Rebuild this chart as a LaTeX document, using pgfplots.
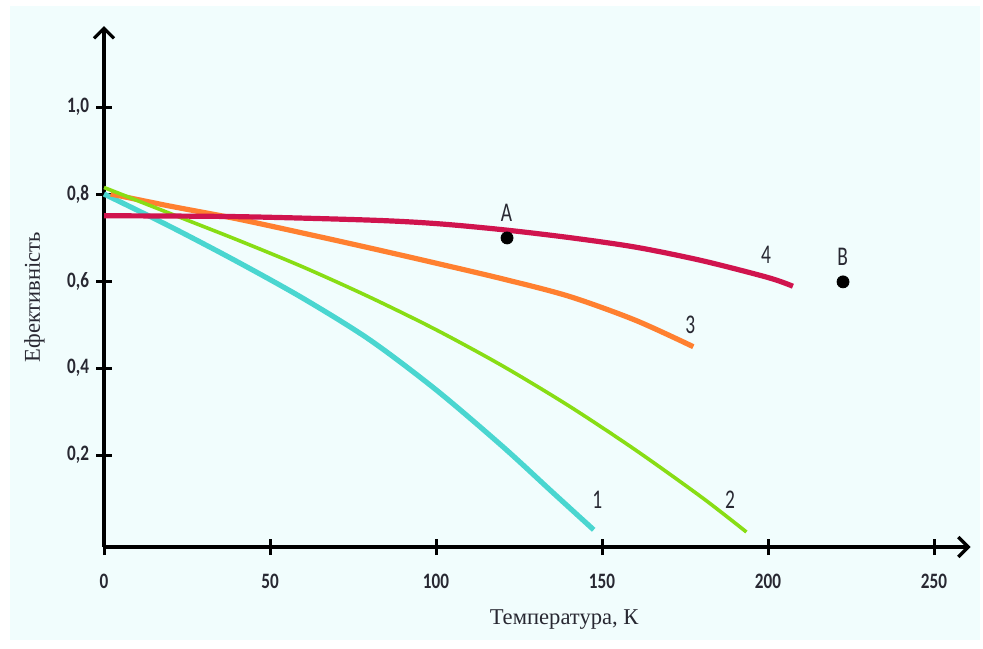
\documentclass[border=0pt]{standalone}
\usepackage{fontspec}
\usepackage{pgfplots}
\pgfplotsset{compat=1.18}
\usetikzlibrary{arrows.meta}
\setmainfont{Liberation Serif}
\newfontfamily\tickfont[FakeStretch=0.78]{Carlito}
\newfontfamily\lblfont[FakeStretch=0.72]{Carlito}
\definecolor{bgpanel}{RGB}{241,253,253}
\definecolor{c1}{RGB}{74,214,208}
\definecolor{c2}{RGB}{136,221,20}
\definecolor{c3}{RGB}{255,128,48}
\definecolor{c4}{RGB}{208,20,78}
\definecolor{txt}{RGB}{40,40,50}
\begin{document}
\begin{tikzpicture}
\begin{axis}[
  set layers,
  x=1.66bp, y=217.5bp,
  xmin=0, xmax=261, ymin=-0.0115, ymax=1.186,
  axis x line=bottom, axis y line=left,
  axis line style={line width=1.6bp, -{Straight Barb[length=5bp,width=10bp,line width=1.6bp]}},
  clip=false,
  xtick={0,50,100,150,200,250}, xticklabels={0,50,100,150,200,250},
  ytick={0.2,0.4,0.6,0.8,1.0}, yticklabels={{0,2},{0,4},{0,6},{0,8},{1,0}},
  tick align=center, major tick length=8bp,
  tick style={line width=1.5bp, black},
  ticklabel style={font=\tickfont\bfseries\fontsize{11bp}{13bp}\selectfont, text=txt},
  xticklabel style={yshift=-6bp},
]
\begin{pgfonlayer}{axis background}
\path (axis cs:-31.33,1.246) rectangle (axis cs:264.76,-0.2437);
\fill[bgpanel] (axis cs:-28.31,1.2322) rectangle (axis cs:263.86,-0.2253);
\end{pgfonlayer}

\addplot[c1, line width=2.6bp, smooth] coordinates {(0,0.80)(20,0.725)(40,0.645)(60,0.56)(80,0.465)(100,0.35)(120,0.22)(135,0.115)(147.5,0.028)};
\addplot[c3, line width=2.6bp, smooth] coordinates {(2,0.80)(20,0.772)(40,0.743)(60,0.71)(80,0.676)(100,0.641)(120,0.605)(140,0.565)(160,0.51)(177.5,0.449)};
\addplot[c2, line width=1.8bp, smooth] coordinates {(0,0.815)(20,0.755)(40,0.695)(60,0.632)(80,0.563)(100,0.488)(120,0.405)(140,0.313)(160,0.212)(180,0.103)(193.5,0.023)};
\addplot[c4, line width=2.6bp, smooth] coordinates {(0,0.75)(40,0.748)(80,0.74)(100,0.732)(120,0.718)(140,0.70)(160,0.678)(180,0.647)(200,0.608)(207.5,0.588)};
\addplot[only marks, mark=*, mark size=3bp, black] coordinates {(121.4,0.699)(222.6,0.598)};

\node[font=\lblfont\fontsize{13.5bp}{15bp}\selectfont, text=txt] at (axis cs:121.2,0.756) {A};
\node[font=\lblfont\fontsize{13.5bp}{15bp}\selectfont, text=txt] at (axis cs:222.5,0.655) {B};
\node[font=\lblfont\fontsize{13.5bp}{15bp}\selectfont, text=txt] at (axis cs:199.4,0.660) {4};
\node[font=\lblfont\fontsize{13.5bp}{15bp}\selectfont, text=txt] at (axis cs:176.6,0.499) {3};
\node[font=\lblfont\fontsize{13.5bp}{15bp}\selectfont, text=txt] at (axis cs:148.6,0.097) {1};
\node[font=\lblfont\fontsize{13.5bp}{15bp}\selectfont, text=txt] at (axis cs:188.6,0.097) {2};

\node[font=\fontsize{11.3bp}{13bp}\selectfont, text=txt] at (axis cs:138.6,-0.179) {Температура, К};
\node[font=\fontsize{11.3bp}{13bp}\selectfont, text=txt, rotate=90, anchor=base] at (axis cs:-19.3,0.563) {Ефективність};
\end{axis}
\end{tikzpicture}
\end{document}
